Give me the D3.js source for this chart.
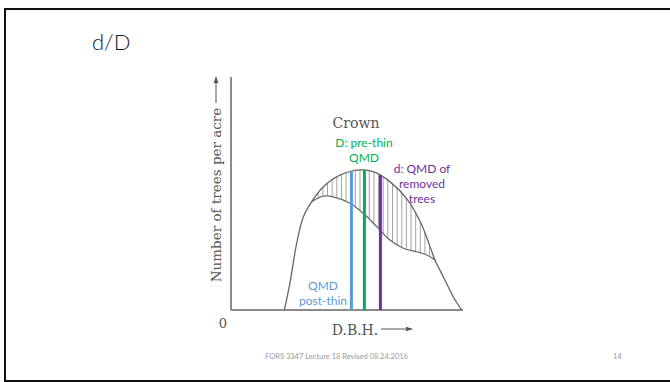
<!DOCTYPE html>
<html><head><meta charset="utf-8">
<script src="https://cdn.jsdelivr.net/npm/d3@7"></script>
<style>html,body{margin:0;padding:0;background:#fff;}svg{display:block;}</style>
</head><body>
<svg id="c" width="670" height="382"></svg>
<script>
// Pre-thin (outer) distribution: [DBH, trees per acre] (relative units 0-100)
const preThinX = [23.0, 25.4, 28.3, 31.2, 34.8, 39.8, 47.0, 55.6, 61.3, 68.5, 76.2, 81.9, 85.8, 87.9, 91.5, 95.8, 99.4];
const preThinY = [0, 11.5, 28.6, 40.0, 46.5, 52.9, 57.9, 60.1, 59.4, 55.1, 47.2, 37.2, 27.2, 21.5, 14.3, 5.7, 0];
// Post-thin (inner) distribution, where it departs from pre-thin
const postThinX = [34.8, 39.8, 44.1, 51.3, 57.0, 62.8, 68.5, 74.3, 80.0, 84.4, 87.9];
const postThinY = [46.5, 48.9, 48.6, 45.8, 41.5, 35.8, 30.0, 26.5, 25.0, 23.6, 21.5];
// QMD markers
const qmdNames = ["post", "pre", "removed"];
const qmdX = [51.9, 57.5, 64.4];
const qmdTop = [59.4, 60.1, 57.9];
const qmdColors = ["#5b9bd5", "#00b050", "#7030a0"];
// Hatch positions (removed trees)
const hatchX = d3.range(35.6, 87, 2.0);

const svg = d3.select("#c");
const x = d3.scaleLinear().domain([0, 100]).range([231, 463]);
const y = d3.scaleLinear().domain([0, 100]).range([310, 77]);

// slide frame
svg.append("rect").attr("x", 5).attr("y", 9).attr("width", 700).attr("height", 372)
  .attr("fill", "none").attr("stroke", "#111").attr("stroke-width", 2);

// title
svg.append("text").attr("x", 92).attr("y", 49.5).text("d/D")
  .attr("font-family", "Lato").attr("font-weight", 300).attr("font-size", 22).attr("fill", "#1a1a1a");

const outer = preThinX.map((v, i) => [v, preThinY[i]]);
const inner = postThinX.map((v, i) => [v, postThinY[i]]);

const defs = svg.append("defs");
defs.append("marker").attr("id", "arr").attr("viewBox", "0 0 10 10").attr("refX", 9).attr("refY", 5)
  .attr("markerWidth", 7).attr("markerHeight", 7).attr("orient", "auto-start-reverse")
  .attr("markerUnits", "userSpaceOnUse")
  .append("path").attr("d", "M0,1.5 L10,5 L0,8.5 Z").attr("fill", "#555");

const area0 = d3.area().x(d => x(d[0])).y0(y(0)).y1(d => y(d[1])).curve(d3.curveCatmullRom);
const line = d3.line().x(d => x(d[0])).y(d => y(d[1])).curve(d3.curveCatmullRom);

defs.append("clipPath").attr("id", "outerClip").append("path").attr("d", area0(outer));

// hatching
svg.append("g").attr("clip-path", "url(#outerClip)").selectAll("line").data(hatchX).join("line")
  .attr("x1", d => x(d)).attr("x2", d => x(d)).attr("y1", y(0)).attr("y2", y(100))
  .attr("stroke", "#8a8a8a").attr("stroke-width", 0.8);
// mask below post-thin curve
svg.append("path").attr("d", area0(inner)).attr("fill", "#fff").attr("stroke", "#fff").attr("stroke-width", 1);

// axes
svg.append("line").attr("x1", x(0)).attr("x2", x(0)).attr("y1", y(0)).attr("y2", y(100))
  .attr("stroke", "#666").attr("stroke-width", 1.5);
svg.append("line").attr("x1", x(0)).attr("x2", x(100)).attr("y1", y(0)).attr("y2", y(0))
  .attr("stroke", "#666").attr("stroke-width", 1.5);

// curves
svg.append("path").attr("d", line(outer)).attr("fill", "none").attr("stroke", "#666").attr("stroke-width", 1.3);
svg.append("path").attr("d", line(inner)).attr("fill", "none").attr("stroke", "#666").attr("stroke-width", 1.3);

// QMD lines
svg.selectAll("line.qmd").data(qmdX).join("line").attr("class", "qmd")
  .attr("x1", d => x(d)).attr("x2", d => x(d))
  .attr("y1", y(0)).attr("y2", (d, i) => y(qmdTop[i]))
  .attr("stroke", (d, i) => qmdColors[i]).attr("stroke-width", 3);

// serif labels
const serif = "DejaVu Serif";
svg.append("text").attr("x", 356).attr("y", 128).attr("text-anchor", "middle").text("Crown")
  .attr("font-family", serif).attr("font-size", 14).attr("fill", "#555");
svg.append("text").attr("x", 223).attr("y", 328).attr("text-anchor", "middle").text("0")
  .attr("font-family", serif).attr("font-size", 13).attr("fill", "#555");
svg.append("text").attr("x", 355).attr("y", 334.5).attr("text-anchor", "middle").text("D.B.H.")
  .attr("font-family", serif).attr("font-size", 14).attr("fill", "#555");
svg.append("line").attr("x1", 381).attr("x2", 412).attr("y1", 329).attr("y2", 329)
  .attr("stroke", "#555").attr("stroke-width", 1).attr("marker-end", "url(#arr)");
svg.append("text").attr("transform", "translate(221,195) rotate(-90)").attr("text-anchor", "middle")
  .text("Number of trees per acre").attr("font-family", serif).attr("font-size", 13.5).attr("fill", "#555");
svg.append("line").attr("x1", 216).attr("x2", 216).attr("y1", 103).attr("y2", 77)
  .attr("stroke", "#555").attr("stroke-width", 1).attr("marker-end", "url(#arr)");

// colored annotations
const ann = [
  {lines: ["D: pre-thin", "QMD"], cx: 364, y0: 147, c: qmdColors[1]},
  {lines: ["d: QMD of", "removed", "trees"], cx: 422, y0: 172.5, c: qmdColors[2]},
  {lines: ["QMD", "post-thin"], cx: 323, y0: 290, c: qmdColors[0]}
];
ann.forEach(a => {
  const t = svg.append("text").attr("text-anchor", "middle").attr("font-family", "Lato")
    .attr("font-size", 12).attr("fill", a.c);
  a.lines.forEach((s, i) => t.append("tspan").attr("x", a.cx).attr("y", a.y0 + i * 15).text(s));
});

// footer
svg.append("text").attr("x", 265).attr("y", 359).text("FORS 3347 Lecture 18 Revised 08.24.2016")
  .attr("font-family", "Lato").attr("font-size", 7.5).attr("fill", "#999");
svg.append("text").attr("x", 613).attr("y", 359).text("14")
  .attr("font-family", "Lato").attr("font-size", 7.5).attr("fill", "#999");
</script>
</body></html>
